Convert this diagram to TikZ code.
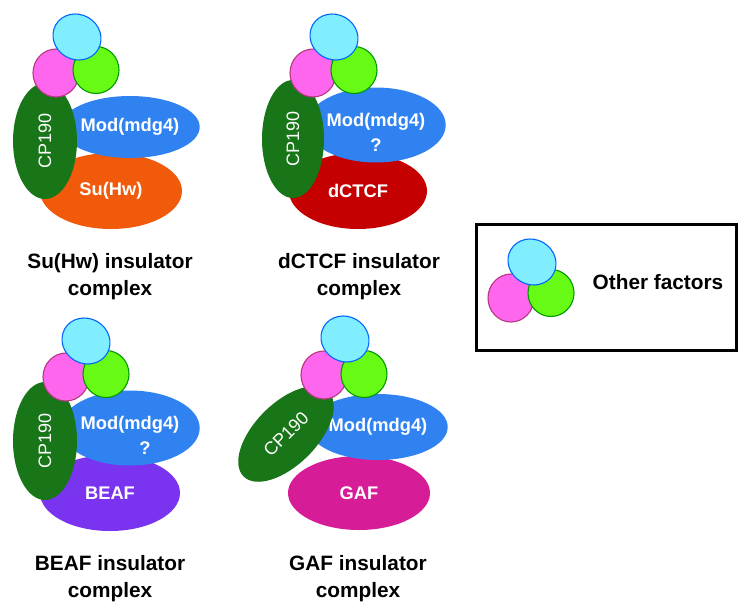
\documentclass[tikz,border=0pt]{standalone}
\usepackage{fontspec}
\setmainfont{Liberation Sans}
\usetikzlibrary{shapes.geometric}
\definecolor{ballcyan}{RGB}{128,238,255}
\definecolor{ballpink}{RGB}{255,102,238}
\definecolor{balllime}{RGB}{102,250,20}
\definecolor{modblue}{RGB}{48,130,240}
\definecolor{cpgreen}{RGB}{24,118,24}
\definecolor{suhw}{RGB}{240,90,10}
\definecolor{dctcf}{RGB}{196,0,0}
\definecolor{beaf}{RGB}{122,52,240}
\definecolor{gaf}{RGB}{214,28,150}
\tikzset{
  blob/.style={ellipse, inner sep=0pt, align=center, text=white,
    font=\bfseries\fontsize{18.3}{25}\selectfont},
  cp/.style={blob, fill=cpgreen, font=\fontsize{18}{22}\selectfont},
  ball/.style={ellipse, inner sep=0pt, line width=1.1pt},
  cyanball/.style={ball, fill=ballcyan, draw=blue!60!cyan, minimum width=49pt, minimum height=45pt, rotate=-30},
  pinkball/.style={ball, fill=ballpink, draw=magenta!70!black, minimum width=46pt, minimum height=48pt},
  limeball/.style={ball, fill=balllime, draw=green!60!black, minimum width=46pt, minimum height=47pt},
  caption/.style={align=center, font=\bfseries\fontsize{20.8}{27}\selectfont}
}
\begin{document}
\begin{tikzpicture}[x=1pt,y=-1pt]
  \useasboundingbox (0,0) rectangle (750,614);
  % Su(Hw)
  \draw
    (111,191) node[blob, fill=suhw, minimum width=142pt, minimum height=76pt] (su1){Su(Hw)}
    (130,127) node[blob, fill=modblue, minimum width=124pt, minimum height=62pt] (mod1){Mod(mdg4)}
    (45,141) node[cp, rotate=90, minimum width=116pt, minimum height=64pt] (cp1){CP190}
    (56,73) node[pinkball] (p1){}
    (96,70) node[limeball] (g1){}
    (77,37) node[cyanball] (c1){}
    (110,277) node[caption] (t1){Su(Hw) insulator\\complex};
  % dCTCF
  \draw
    (358,191) node[blob, fill=dctcf, minimum width=138pt, minimum height=76pt] (su2){dCTCF}
    (376,125) node[blob, fill=modblue, minimum width=116pt, minimum height=66pt] (mod2){\rule{0pt}{28pt}Mod(mdg4)\\?}
    (293,139) node[cp, rotate=90, minimum width=118pt, minimum height=62pt] (cp2){CP190}
    (313,73) node[pinkball] (p2){}
    (354,70) node[limeball] (g2){}
    (334,37) node[cyanball] (c2){}
    (359,277) node[caption] (t2){dCTCF insulator\\complex};
  % BEAF
  \draw
    (110,493) node[blob, fill=beaf, minimum width=140pt, minimum height=76pt] (su3){BEAF}
    (130,428) node[blob, fill=modblue, minimum width=124pt, minimum height=66pt] (mod3){\rule{0pt}{28pt}Mod(mdg4)\\\hspace*{30pt}?}
    (45,441) node[cp, rotate=90, minimum width=118pt, minimum height=64pt] (cp3){CP190}
    (66,377) node[pinkball] (p3){}
    (106,374) node[limeball] (g3){}
    (86,341) node[cyanball] (c3){}
    (110,579) node[caption] (t3){BEAF insulator\\complex};
  % GAF
  \draw
    (359,493) node[blob, fill=gaf, minimum width=142pt, minimum height=74pt] (su4){GAF}
    (378,427) node[blob, fill=modblue, minimum width=120pt, minimum height=66pt] (mod4){Mod(mdg4)}
    (286,434) node[cp, rotate=45, minimum width=120pt, minimum height=62pt] (cp4){CP190}
    (324,375) node[pinkball] (p4){}
    (364,374) node[limeball] (g4){}
    (345,339) node[cyanball] (c4){}
    (358,579) node[caption] (t4){GAF insulator\\complex};
  % legend
  \draw
    (606,287) node[draw, line width=3pt, minimum width=260pt, minimum height=126pt] (key){}
    (511,298) node[pinkball] (p5){}
    (551,293) node[limeball] (g5){}
    (532,262) node[cyanball] (c5){}
    (658,282) node[font=\bfseries\fontsize{20.8}{24}\selectfont] (other){Other factors};
\end{tikzpicture}
\end{document}
